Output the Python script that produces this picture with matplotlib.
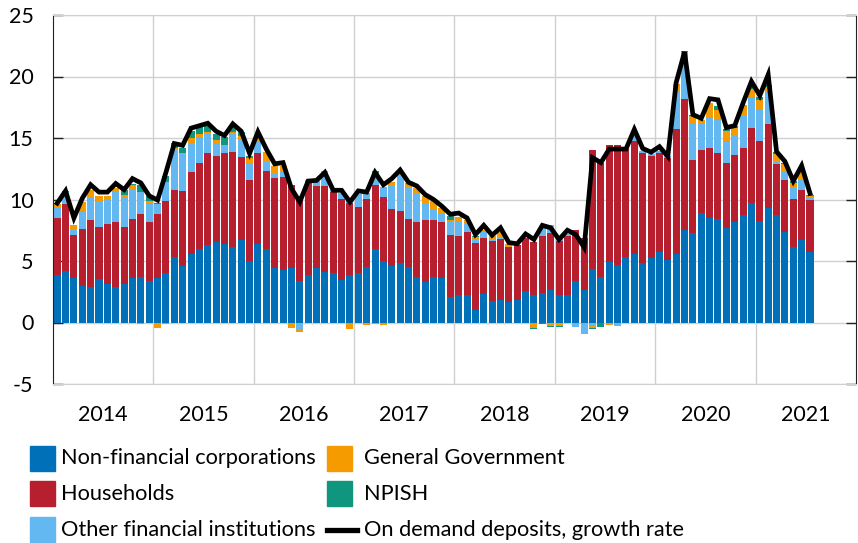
import numpy as np
import pandas as pd
import matplotlib
matplotlib.use('Agg')
import matplotlib.pyplot as plt
from matplotlib.patches import Rectangle
from matplotlib.lines import Line2D

plt.rcParams['font.family'] = ['Lato', 'DejaVu Sans']

# monthly contributions, Jan 2014 - Jul 2021 (percentage points)
months = pd.date_range('2014-01-01', periods=91, freq='MS')
years = [2014, 2015, 2016, 2017, 2018, 2019, 2020, 2021]

nfc = [3.9, 4.2, 3.6, 3.0, 2.9, 3.5, 3.1, 2.9, 3.1, 3.6,
       3.7, 3.4, 3.65, 4.0, 5.3, 4.6, 5.6, 6.0, 6.3, 6.55,
       6.4, 6.15, 6.7, 5.0, 6.4, 5.95, 4.4, 4.3, 4.45, 3.4,
       3.85, 4.45, 4.1, 4.05, 3.45, 3.85, 4.05, 4.55, 6.0, 5.0,
       4.6, 4.8, 4.5, 3.7, 3.3, 3.7, 3.65, 2.05, 2.25, 2.25,
       1.0, 2.3, 1.75, 1.8, 1.65, 1.8, 2.55, 2.2, 2.4, 2.65,
       2.25, 2.2, 3.35, 2.65, 4.35, 3.7, 4.95, 4.65, 5.3, 5.55,
       4.85, 5.25, 5.7, 5.05, 5.55, 7.5, 7.3, 8.9, 8.5, 8.45,
       7.7, 8.15, 8.75, 9.75, 8.25, 9.3, 8.75, 7.35, 6.15, 6.7,
       5.75]
hh = [4.6, 5.4, 3.5, 4.6, 5.4, 4.3, 4.9, 5.3, 4.7, 4.8,
      5.1, 4.8, 5.15, 5.9, 5.5, 6.1, 6.6, 7.0, 7.5, 7.0,
      7.4, 7.7, 6.75, 6.6, 7.4, 6.35, 7.35, 7.55, 6.75, 6.85,
      7.6, 6.65, 7.0, 6.55, 6.6, 5.9, 5.3, 5.5, 5.2, 5.2,
      4.6, 4.3, 3.95, 4.45, 5.0, 4.6, 4.55, 5.1, 4.75, 5.1,
      5.5, 4.55, 4.85, 4.95, 4.5, 4.5, 4.3, 4.35, 4.6, 4.65,
      4.4, 4.8, 4.2, 4.25, 9.7, 9.25, 9.45, 9.75, 8.8, 9.2,
      8.95, 8.3, 8.1, 8.35, 10.2, 10.7, 5.95, 5.15, 5.7, 5.35,
      5.25, 5.5, 5.4, 6.05, 6.5, 6.8, 4.1, 4.25, 3.9, 4.1,
      4.25]
ofi = [0.9, 1.0, 0.5, 1.4, 1.9, 2.0, 2.0, 2.5, 2.3, 2.4,
       1.8, 1.4, 0.8, 1.5, 3.2, 3.1, 2.3, 2.1, 1.6, 1.05,
       0.65, 1.55, 1.5, 1.3, 0.95, 0.8, 0.4, 0.45, 0.0, -0.5,
       0.15, 0.4, 1.1, 0.15, 0.5, 0.05, 1.1, 0.45, 0.65, 0.8,
       2.0, 2.85, 2.6, 2.4, 1.35, 0.9, 0.65, 1.0, 1.15, 0.75,
       0.3, 0.6, 0.2, 0.2, 0.0, 0.0, 0.0, 0.0, 0.75, 0.6,
       0.1, 0.2, -0.4, -0.95, -0.3, 0.0, 0.0, -0.25, 0.0, 0.55,
       0.15, 0.15, 0.15, 0.15, 3.05, 3.7, 2.85, 2.05, 2.45, 2.7,
       1.7, 1.6, 2.7, 2.55, 2.6, 2.75, 0.3, 0.7, 0.9, 0.9,
       0.15]
gg = [0.2, 0.0, 0.3, 0.8, 0.6, 0.5, 0.3, 0.2, 0.3, 0.4,
      -0.1, 0.3, -0.45, -0.1, 0.2, 0.0, 0.5, 0.2, 0.1, 0.2,
      0.0, 0.1, 0.25, 0.5, 0.3, 0.8, 0.55, 0.4, -0.45, -0.25,
      0.0, 0.0, 0.1, 0.05, 0.0, -0.5, 0.0, -0.2, -0.1, -0.2,
      0.2, 0.2, 0.3, 0.4, 0.6, 0.65, 0.45, 0.15, 0.45, 0.25,
      0.15, 0.1, 0.25, 0.4, 0.2, 0.0, 0.0, -0.45, 0.0, -0.25,
      -0.3, 0.0, 0.0, 0.0, -0.15, 0.0, -0.2, 0.05, 0.0, 0.0,
      0.0, 0.0, 0.0, -0.15, 0.55, 0.1, 0.65, 0.35, 1.2, 0.8,
      0.9, 0.55, 0.8, 0.6, 0.75, 0.3, 0.55, 0.55, 0.4, 0.5,
      0.15]
npish = [0.0, 0.1, 0.0, 0.0, 0.0, 0.0, 0.0, 0.0, 0.4, 0.1,
         0.6, 0.4, 0.1, 0.5, 0.4, 0.4, 0.6, 0.6, 0.5, 0.55,
         0.6, 0.4, 0.3, 0.15, 0.0, 0.0, 0.0, 0.0, 0.0, 0.0,
         0.0, 0.0, 0.0, 0.0, 0.0, 0.1, 0.0, 0.0, 0.5, 0.0,
         0.0, 0.0, 0.0, 0.0, 0.0, 0.0, 0.0, 0.35, 0.0, 0.0,
         0.05, 0.0, 0.0, 0.0, 0.0, 0.0, 0.0, -0.05, -0.1, -0.15,
         -0.05, 0.0, 0.0, 0.0, -0.1, -0.4, 0.0, 0.0, 0.0, 0.0,
         0.0, 0.0, 0.0, 0.0, 0.0, 0.05, 0.1, 0.0, 0.0, 0.3,
         0.2, 0.15, 0.05, 0.2, 0.25, 0.15, 0.15, 0.15, 0.15, 0.05,
         0.1]
growth = [9.7, 10.7, 8.5, 10.1, 11.2, 10.6, 10.6, 11.3, 10.8, 11.7,
          11.35, 10.3, 9.95, 12.2, 14.55, 14.4, 15.8, 16.0, 16.2, 15.55,
          15.2, 16.15, 15.55, 13.75, 15.5, 14.1, 12.9, 13.0, 10.9, 9.8,
          11.5, 11.55, 12.2, 10.75, 10.75, 9.8, 10.7, 10.6, 12.2, 11.2,
          11.7, 12.4, 11.4, 11.1, 10.4, 10.0, 9.45, 8.8, 8.9, 8.5,
          7.15, 7.9, 7.1, 7.7, 6.5, 6.4, 7.2, 6.75, 7.9, 7.7,
          6.75, 7.5, 7.15, 6.1, 13.4, 13.0, 14.1, 14.1, 14.1, 15.7,
          14.15, 13.85, 14.3, 13.5, 19.5, 22.0, 16.9, 16.6, 18.2, 18.1,
          15.85, 16.0, 17.85, 19.6, 18.45, 20.15, 13.9, 13.1, 11.5, 12.75,
          10.5]

series = [
    (nfc, '#0070b8', 'Non-financial corporations'),
    (hh, '#b81f2e', 'Households'),
    (ofi, '#63b8f2', 'Other financial institutions'),
    (gg, '#f59b00', 'General Government'),
    (npish, '#10957f', 'NPISH'),
]
line_label = 'On demand deposits, growth rate'

x = np.arange(len(months))
W, H = 858, 543

fig = plt.figure(figsize=(W / 100, H / 100), dpi=100)
ax = fig.add_axes([53 / W, 1 - 384 / H, (856 - 53) / W, (384 - 15) / H])

pos_bottom = np.zeros(len(x))
neg_bottom = np.zeros(len(x))
for vals, color, label in series:
    v = np.array(vals)
    bottom = np.where(v >= 0, pos_bottom, neg_bottom)
    ax.bar(x, v, bottom=bottom, width=0.84, color=color, linewidth=0)
    pos_bottom += np.where(v > 0, v, 0)
    neg_bottom += np.where(v < 0, v, 0)

ax.plot(x, growth, color='black', lw=3.4, solid_joinstyle='miter')

ax.set_xlim(-0.5, 95.5)
ax.set_ylim(-5, 25)
yt = list(range(-5, 26, 5))
ax.set_yticks(yt)
ax.set_yticklabels([str(v) for v in yt])

ax.set_xticks(np.arange(11.5, 95, 12))
ax.set_xticklabels([])
ax.set_xticks(np.arange(5.5, 96, 12), minor=True)
ax.set_xticklabels([str(y) for y in years], minor=True)
ax.tick_params(axis='x', which='both', length=0)
ax.tick_params(axis='x', which='minor', pad=15, labelsize=15.5)
ax.tick_params(axis='y', direction='in', length=7, width=1, left=True, right=True,
               pad=14, labelsize=15.5, color='#222222')

ax.grid(True, which='major', color='#d0d0d0', lw=1)
ax.set_axisbelow(True)
for s in ['left', 'right']:
    ax.spines[s].set_color('#222222')
for s in ['top', 'bottom']:
    ax.spines[s].set_color('#d0d0d0')

# legend drawn by hand: two columns, three rows
rows = [458.5, 493.5, 529.5]
cols = [30, 327]
text_x = [61, 364]
entries = [(c, l) for _, c, l in series] + [('line', line_label)]
for k, (c, l) in enumerate(entries):
    col = k // 3
    px = cols[col]
    py = rows[k % 3]
    if c == 'line':
        fig.add_artist(Line2D([px / W, (px + 30) / W], [1 - py / H, 1 - py / H],
                              color='black', lw=3.8, transform=fig.transFigure))
    else:
        fig.add_artist(Rectangle((px / W, 1 - (py + 12.5) / H), 25 / W, 25 / H,
                                 color=c, transform=fig.transFigure))
    fig.text(text_x[col] / W, 1 - py / H, l, fontsize=15.7, va='center', ha='left')

fig.savefig('out.png', dpi=100)
